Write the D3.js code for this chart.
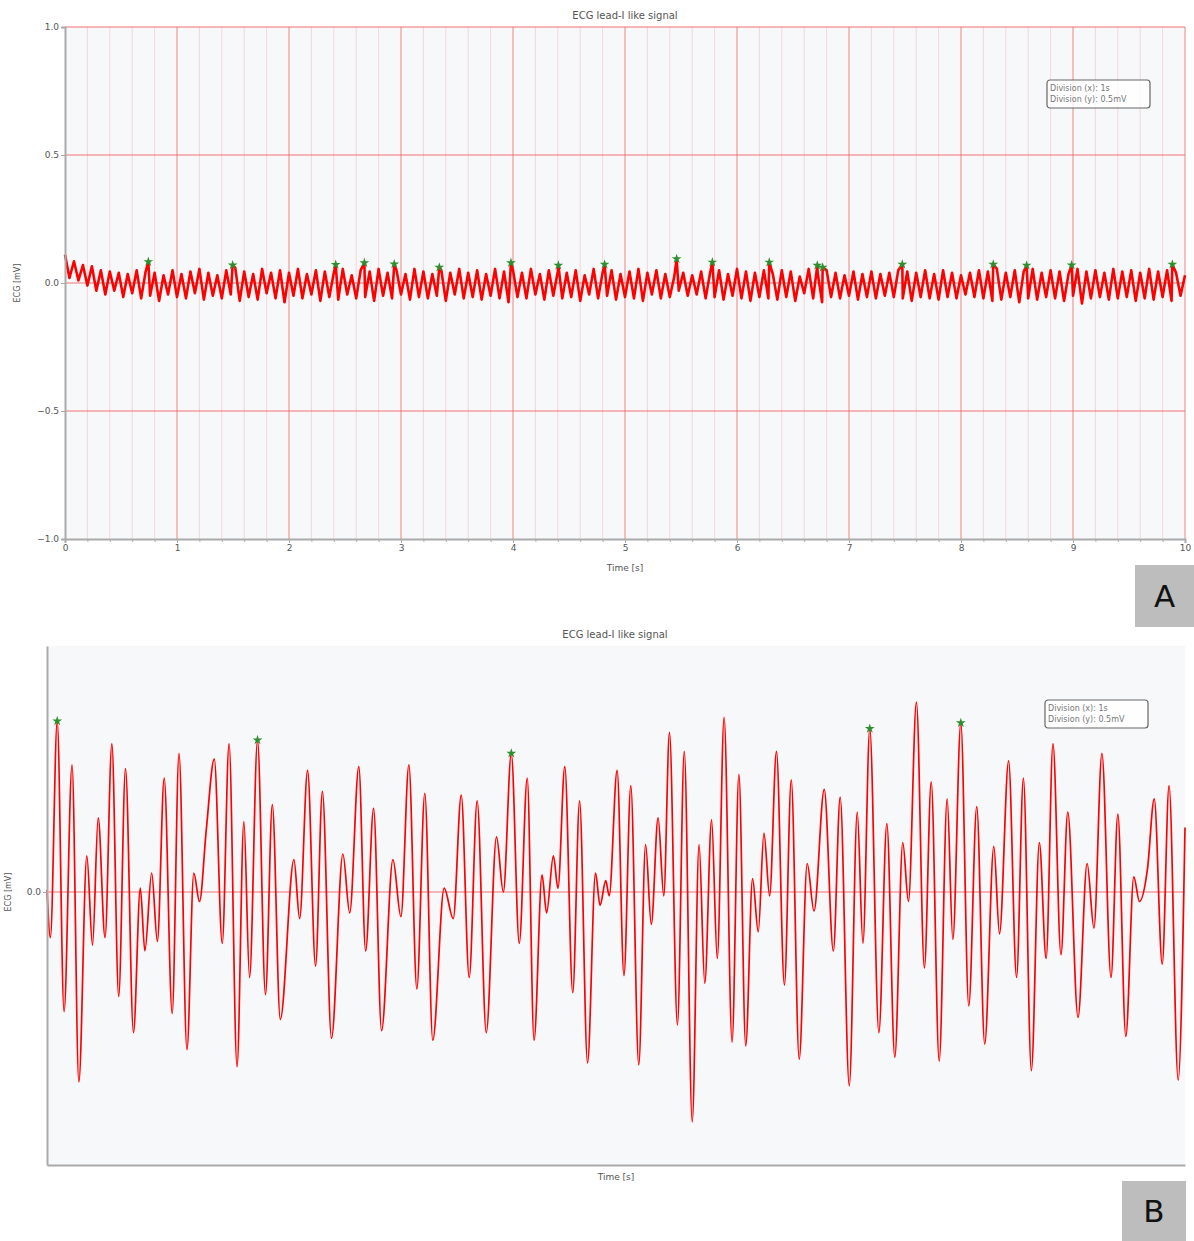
<!DOCTYPE html>
<meta charset="utf-8">

<head>
  <script src="https://d3js.org/d3.v7.min.js"></script>
  <style>
    body { margin: 0; background: #fff; }
    text { font-family: "DejaVu Sans", sans-serif; }
  </style>
</head>

<body>
  <svg id="root"></svg>

  <script>
    // ---- panel A: 10 s strip, one value every aDt seconds ----
    const aDt = 0.04;
    const aValues = [
      0.110, 0.020, 0.085, 0.010, 0.070, -0.010, 0.065, -0.030, 0.050, -0.045,
      0.045, -0.030, 0.040, -0.055, 0.035, -0.040, 0.050, -0.060, 0.045, -0.050,
      0.040, -0.070, 0.030, -0.045, 0.050, -0.055, 0.035, -0.060, 0.045, -0.040,
      0.055, -0.065, 0.040, -0.050, 0.030, -0.060, 0.050, -0.045, 0.060, -0.070,
      0.045, -0.055, 0.035, -0.065, 0.055, -0.040, 0.040, -0.060, 0.050, -0.075,
      0.040, -0.050, 0.055, -0.060, 0.035, -0.045, 0.050, -0.070, 0.045, -0.055,
      0.040, -0.065, 0.055, -0.045, 0.030, -0.060, 0.050, -0.055, 0.045, -0.070,
      0.055, -0.050, 0.040, -0.060, 0.050, -0.045, 0.035, -0.065, 0.055, -0.055,
      0.045, -0.060, 0.035, -0.050, 0.050, -0.070, 0.040, -0.045, 0.055, -0.060,
      0.040, -0.055, 0.050, -0.065, 0.035, -0.050, 0.055, -0.060, 0.045, -0.075,
      0.050, -0.055, 0.040, -0.060, 0.055, -0.045, 0.035, -0.065, 0.050, -0.050,
      0.045, -0.060, 0.040, -0.055, 0.050, -0.070, 0.030, -0.045, 0.055, -0.060,
      0.040, -0.050, 0.050, -0.065, 0.035, -0.055, 0.045, -0.060, 0.055, -0.070,
      0.040, -0.045, 0.050, -0.060, 0.035, -0.055, 0.025, -0.030, 0.040, -0.050,
      0.030, -0.045, 0.045, -0.060, 0.040, -0.055, 0.050, -0.065, 0.035, -0.050,
      0.055, -0.060, 0.045, -0.070, 0.040, -0.055, 0.050, -0.060, 0.035, -0.065,
      0.050, -0.055, 0.045, -0.070, 0.025, -0.040, 0.055, -0.060, 0.040, -0.075,
      0.050, -0.055, 0.040, -0.060, 0.030, -0.050, 0.045, -0.065, 0.035, -0.055,
      0.045, -0.060, 0.035, -0.050, 0.040, -0.055, 0.050, -0.060, 0.045, -0.070,
      0.040, -0.055, 0.050, -0.060, 0.035, -0.065, 0.050, -0.055, 0.040, -0.060,
      0.030, -0.045, 0.040, -0.055, 0.050, -0.060, 0.045, -0.070, 0.055, -0.065,
      0.040, -0.055, 0.050, -0.075, 0.045, -0.060, 0.055, -0.065, 0.040, -0.055,
      0.050, -0.060, 0.045, -0.070, 0.035, -0.050, 0.055, -0.080, 0.045, -0.060,
      0.050, -0.055, 0.040, -0.065, 0.055, -0.060, 0.045, -0.055, 0.050, -0.070,
      0.040, -0.060, 0.055, -0.065, 0.045, -0.055, 0.050, -0.070, 0.040, -0.050, 0.030
    ];
    // detected R peaks (green stars)
    const aPeakTime = [0.744, 1.497, 2.417, 2.673, 2.940, 3.342, 3.982, 4.405, 4.818, 5.461,
      5.780, 6.288, 6.717, 6.765, 7.476, 8.288, 8.586, 8.988, 9.887];
    const aPeakValue = [0.083, 0.070, 0.072, 0.079, 0.074, 0.061, 0.079, 0.069, 0.073, 0.094,
      0.081, 0.081, 0.069, 0.061, 0.073, 0.073, 0.069, 0.070, 0.073];
    const aYTicks = [-1.0, -0.5, 0.0, 0.5, 1.0];
    const aXTicks = [0, 1, 2, 3, 4, 5, 6, 7, 8, 9, 10];

    // ---- panel B: zoomed segment (turning points) ----
    const bTime = [
      0, 0.003, 0.009, 0.015, 0.022, 0.028, 0.035, 0.040, 0.045, 0.051,
      0.057, 0.063, 0.069, 0.076, 0.082, 0.086, 0.092, 0.097, 0.103, 0.110,
      0.116, 0.123, 0.129, 0.134, 0.140, 0.147, 0.154, 0.160, 0.167, 0.173,
      0.178, 0.185, 0.192, 0.198, 0.205, 0.217, 0.222, 0.229, 0.236, 0.242,
      0.250, 0.260, 0.266, 0.274, 0.280, 0.287, 0.294, 0.304, 0.311, 0.318,
      0.325, 0.332, 0.339, 0.349, 0.357, 0.364, 0.371, 0.378, 0.386, 0.395,
      0.401, 0.408, 0.415, 0.422, 0.428, 0.435, 0.439, 0.445, 0.449, 0.455,
      0.462, 0.468, 0.475, 0.482, 0.486, 0.491, 0.494, 0.501, 0.507, 0.513,
      0.520, 0.526, 0.531, 0.537, 0.542, 0.547, 0.554, 0.560, 0.567, 0.573,
      0.578, 0.584, 0.589, 0.595, 0.602, 0.608, 0.614, 0.620, 0.625, 0.630,
      0.635, 0.641, 0.648, 0.654, 0.661, 0.668, 0.674, 0.683, 0.691, 0.697,
      0.705, 0.712, 0.717, 0.723, 0.731, 0.738, 0.745, 0.752, 0.757, 0.764,
      0.771, 0.777, 0.784, 0.791, 0.796, 0.803, 0.810, 0.817, 0.824, 0.832,
      0.837, 0.845, 0.852, 0.858, 0.865, 0.872, 0.878, 0.884, 0.891, 0.897,
      0.906, 0.914, 0.920, 0.927, 0.935, 0.941, 0.948, 0.955, 0.960, 0.967,
      0.973, 0.980, 0.986, 0.994, 1.000
    ];
    const bValue = [
      0.001, -0.024, 0.090, -0.063, 0.067, -0.100, 0.019, -0.028, 0.039, -0.024,
      0.078, -0.055, 0.065, -0.074, 0.002, -0.031, 0.010, -0.026, 0.060, -0.064,
      0.073, -0.083, 0.010, -0.005, 0.033, 0.070, -0.027, 0.078, -0.092, 0.037,
      -0.045, 0.080, -0.054, 0.046, -0.067, 0.017, -0.014, 0.064, -0.039, 0.053,
      -0.077, 0.020, -0.011, 0.066, -0.031, 0.044, -0.073, 0.017, -0.013, 0.067,
      -0.051, 0.052, -0.078, 0.002, -0.014, 0.051, -0.045, 0.048, -0.074, 0.029,
      0.000, 0.073, -0.027, 0.060, -0.078, 0.009, -0.011, 0.019, 0.002, 0.066,
      -0.053, 0.048, -0.090, 0.010, -0.007, 0.006, -0.002, 0.064, -0.044, 0.056,
      -0.091, 0.025, -0.017, 0.039, -0.002, 0.084, -0.070, 0.074, -0.121, 0.025,
      -0.048, 0.038, -0.035, 0.092, -0.079, 0.062, -0.081, 0.007, -0.021, 0.031,
      -0.002, 0.074, -0.049, 0.059, -0.088, 0.015, -0.010, 0.054, -0.031, 0.050,
      -0.102, 0.042, -0.027, 0.086, -0.074, 0.036, -0.087, 0.026, -0.005, 0.100,
      -0.040, 0.058, -0.089, 0.049, -0.025, 0.089, -0.060, 0.045, -0.080, 0.024,
      -0.022, 0.069, -0.045, 0.060, -0.094, 0.026, -0.035, 0.078, -0.033, 0.042,
      -0.066, 0.015, -0.019, 0.073, -0.045, 0.041, -0.076, 0.008, -0.005, 0.012,
      0.049, -0.038, 0.056, -0.099, 0.034
    ];
    const bPeakIdx = [2, 31, 61, 113, 125];

    const title = "ECG lead-I like signal";
    const legendLines = ["Division (x):  1s", "Division (y):  0.5mV"];

    const W = 1194, H = 1241;
    const svg = d3.select("#root").attr("width", W).attr("height", H);

    const gridRed = "#f06060";
    const axisGray = "#aaa";
    const labelGray = "#555";
    const plotBg = "#f7f8fa";
    const peakSymbol = d3.symbol().type(d3.symbolStar).size(30);

    function legend(g, x, y) {
      const box = g.append("g").attr("transform", `translate(${x},${y})`);
      box.append("rect")
        .attr("width", 103).attr("height", 28).attr("rx", 3)
        .attr("fill", "#fff").attr("fill-opacity", 0.8)
        .attr("stroke", "#666").attr("stroke-width", 1.2);
      box.selectAll("text").data(legendLines).join("text")
        .attr("x", 3).attr("y", (d, i) => 11 + i * 11)
        .attr("font-size", 8).attr("fill", "#777")
        .text(d => d);
    }

    function panelTag(x, y, w, h, letter) {
      svg.append("rect").attr("x", x).attr("y", y).attr("width", w).attr("height", h)
        .attr("fill", "#bdbdbd");
      svg.append("text").attr("x", x + w / 2).attr("y", y + h / 2 + 11)
        .attr("text-anchor", "middle").attr("font-size", 31)
        .attr("font-family", "Liberation Sans, sans-serif")
        .attr("fill", "#111").text(letter);
    }

    // ================= Panel A =================
    const mA = { left: 65, top: 27, width: 1120, height: 512 };
    const gA = svg.append("g").attr("transform", `translate(${mA.left},${mA.top})`);
    const xA = d3.scaleLinear([0, 10], [0, mA.width]);
    const yA = d3.scaleLinear([-1, 1], [mA.height, 0]);

    gA.append("rect").attr("width", mA.width).attr("height", mA.height).attr("fill", plotBg);

    // minor vertical grid every 0.2 s
    const minorX = d3.range(0, 10.001, 0.2).filter(t => Math.abs(t - Math.round(t)) > 1e-6);
    gA.append("g").selectAll("line").data(minorX).join("line")
      .attr("x1", d => xA(d)).attr("x2", d => xA(d))
      .attr("y1", 0).attr("y2", mA.height)
      .attr("stroke", gridRed).attr("stroke-opacity", 0.22).attr("stroke-width", 1);
    // major grid
    gA.append("g").selectAll("line").data(aXTicks.slice(1)).join("line")
      .attr("x1", d => xA(d)).attr("x2", d => xA(d))
      .attr("y1", 0).attr("y2", mA.height)
      .attr("stroke", gridRed).attr("stroke-opacity", 0.6).attr("stroke-width", 1.3);
    gA.append("g").selectAll("line").data(aYTicks.slice(1)).join("line")
      .attr("x1", 0).attr("x2", mA.width)
      .attr("y1", d => yA(d)).attr("y2", d => yA(d))
      .attr("stroke", gridRed).attr("stroke-opacity", 0.6).attr("stroke-width", 1.3);

    // signal
    const aSamples = aValues.map((v, i) => [i * aDt, v]);
    const aPeaks = aPeakTime.map((t, i) => [t, aPeakValue[i]]);
    const aLineData = aSamples.concat(aPeaks).sort((p, q) => p[0] - q[0]);
    gA.append("path").datum(aLineData)
      .attr("fill", "none").attr("stroke", "red").attr("stroke-width", 2.6)
      .attr("stroke-linejoin", "round")
      .attr("d", d3.line().x(d => xA(d[0])).y(d => yA(d[1])));

    gA.append("g").selectAll("path").data(aPeaks).join("path")
      .attr("transform", d => `translate(${xA(d[0])},${yA(d[1])})`)
      .attr("d", peakSymbol).attr("fill", "#2f8f2f");

    // axes
    const axA_x = gA.append("g").attr("transform", `translate(0,${mA.height})`)
      .call(d3.axisBottom(xA).tickValues(aXTicks).tickFormat(d3.format("d")).tickSize(4).tickPadding(2));
    gA.append("g").attr("transform", `translate(0,${mA.height})`)
      .call(d3.axisBottom(xA).tickValues(minorX).tickFormat("").tickSize(3))
      .call(g => g.select(".domain").remove());
    const axA_y = gA.append("g")
      .call(d3.axisLeft(yA).tickValues(aYTicks).tickFormat(d3.format(".1f")).tickSize(4).tickPadding(2));
    [axA_x, axA_y].forEach(a => {
      a.select(".domain").attr("stroke", axisGray).attr("stroke-width", 2);
    });
    gA.selectAll(".tick line").attr("stroke", axisGray);
    gA.selectAll(".tick text").attr("fill", labelGray).attr("font-size", 9);

    svg.append("text").attr("x", mA.left + mA.width / 2).attr("y", 19)
      .attr("text-anchor", "middle").attr("font-size", 10).attr("fill", labelGray).text(title);
    svg.append("text").attr("x", mA.left + mA.width / 2).attr("y", 571)
      .attr("text-anchor", "middle").attr("font-size", 9).attr("fill", labelGray).text("Time [s]");
    svg.append("text").attr("transform", `translate(20,${yA(0) + mA.top}) rotate(-90)`)
      .attr("text-anchor", "middle").attr("font-size", 8).attr("fill", labelGray).text("ECG [mV]");

    legend(svg, 1047, 80);
    panelTag(1135, 565, 59, 62, "A");

    // ================= Panel B =================
    const mB = { left: 47, top: 646, width: 1138, height: 519 };
    const gB = svg.append("g").attr("transform", `translate(${mB.left},${mB.top})`);
    const xB = d3.scaleLinear([0, 1], [0, mB.width]);
    const yB = d3.scaleLinear([-0.1437, 0.1295], [mB.height, 0]);

    gB.append("rect").attr("width", mB.width).attr("height", mB.height).attr("fill", plotBg);
    gB.append("line").attr("x1", 0).attr("x2", mB.width)
      .attr("y1", yB(0)).attr("y2", yB(0))
      .attr("stroke", gridRed).attr("stroke-opacity", 0.6).attr("stroke-width", 1.3);

    const bData = bTime.map((t, i) => [t, bValue[i]]);
    gB.append("path").datum(bData)
      .attr("fill", "none").attr("stroke", "red").attr("stroke-width", 1.7)
      .attr("d", d3.line().x(d => xB(d[0])).y(d => yB(d[1])).curve(d3.curveMonotoneX));

    gB.append("g").selectAll("path").data(bPeakIdx.map(i => bData[i])).join("path")
      .attr("transform", d => `translate(${xB(d[0])},${yB(d[1])})`)
      .attr("d", peakSymbol).attr("fill", "#2f8f2f");

    const axB_x = gB.append("g").attr("transform", `translate(0,${mB.height})`)
      .call(d3.axisBottom(xB).tickValues([]).tickSizeOuter(0));
    const axB_y = gB.append("g")
      .call(d3.axisLeft(yB).tickValues([0]).tickFormat(d3.format(".1f")).tickSize(4).tickSizeOuter(0).tickPadding(2));
    [axB_x, axB_y].forEach(a => {
      a.select(".domain").attr("stroke", axisGray).attr("stroke-width", 2);
    });
    gB.selectAll(".tick line").attr("stroke", axisGray);
    gB.selectAll(".tick text").attr("fill", labelGray).attr("font-size", 9);

    svg.append("text").attr("x", 615).attr("y", 638)
      .attr("text-anchor", "middle").attr("font-size", 10).attr("fill", labelGray).text(title);
    svg.append("text").attr("x", 616).attr("y", 1180)
      .attr("text-anchor", "middle").attr("font-size", 9).attr("fill", labelGray).text("Time [s]");
    svg.append("text").attr("transform", `translate(11,${yB(0) + mB.top}) rotate(-90)`)
      .attr("text-anchor", "middle").attr("font-size", 8).attr("fill", labelGray).text("ECG [mV]");

    legend(svg, 1045, 700);
    panelTag(1122, 1181, 64, 60, "B");
  </script>
</body>
